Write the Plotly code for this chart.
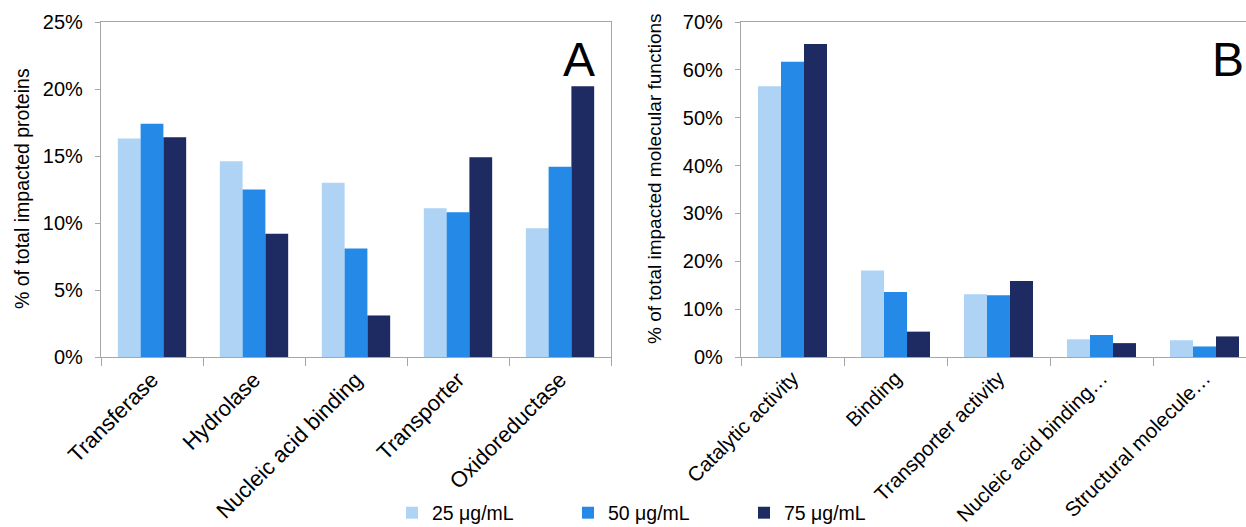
import plotly.graph_objects as go
from plotly.subplots import make_subplots

# Panel A: protein classes
classes_a = ["Transferase", "Hydrolase", "Nucleic acid binding", "Transporter", "Oxidoreductase"]
a_25 = [16.3, 14.6, 13.0, 11.1, 9.6]
a_50 = [17.4, 12.5, 8.1, 10.8, 14.2]
a_75 = [16.4, 9.2, 3.1, 14.9, 20.2]

# Panel B: molecular functions
classes_b = ["Catalytic activity", "Binding", "Transporter activity",
             "Nucleic acid binding…", "Structural molecule…"]
b_25 = [56.6, 18.1, 13.1, 3.7, 3.5]
b_50 = [61.7, 13.6, 12.9, 4.6, 2.2]
b_75 = [65.4, 5.3, 15.9, 2.9, 4.3]

doses = ["25 μg/mL", "50 μg/mL", "75 μg/mL"]
colors = ["#AED3F5", "#2589E7", "#1E2A62"]

FONT = "Liberation Sans, Arial, sans-serif"
W, H = 1246, 527
AXIS_GRAY = "#A6A6A6"

fig = make_subplots(rows=1, cols=2)

for i, (ya, yb) in enumerate(zip([a_25, a_50, a_75], [b_25, b_50, b_75])):
    fig.add_trace(go.Bar(x=classes_a, y=ya, name=doses[i], marker_color=colors[i],
                         marker_line_width=0, legendgroup=doses[i], showlegend=True),
                  row=1, col=1)
    fig.add_trace(go.Bar(x=classes_b, y=yb, name=doses[i], marker_color=colors[i],
                         marker_line_width=0, legendgroup=doses[i], showlegend=False),
                  row=1, col=2)

# plot-area pixel positions
a_left, a_right = 101, 611
b_left = 741
cat_px = 103.0

common_x = dict(showline=True, linecolor=AXIS_GRAY, linewidth=1.3, ticks="outside",
                tickson="boundaries", ticklen=8, tickcolor=AXIS_GRAY, tickwidth=1.3,
                tickangle=-45, showgrid=False, zeroline=False, automargin=False)
common_y = dict(showline=True, linecolor=AXIS_GRAY, linewidth=1.3, ticks="outside",
                ticklen=5, tickcolor=AXIS_GRAY, tickwidth=1.3, ticksuffix="%",
                tickfont=dict(family=FONT, size=20, color="#000"), showgrid=False,
                zeroline=False, ticklabelstandoff=8, automargin=False)

fig.update_xaxes(domain=[a_left / W, a_right / W], mirror=True, range=[-0.5, 4.5],
                 tickfont=dict(family=FONT, size=22, color="#000"),
                 **common_x, row=1, col=1)
fig.update_xaxes(domain=[b_left / W, 1.0], mirror=True,
                 range=[-0.5, -0.5 + (W - b_left) / cat_px],
                 tickfont=dict(family=FONT, size=20.5, color="#000"),
                 **common_x, row=1, col=2)
fig.update_yaxes(range=[0, 25], dtick=5, mirror=True, **common_y, row=1, col=1)
fig.update_yaxes(range=[0, 70], dtick=10, mirror=False, **common_y, row=1, col=2)

top, bottom = 22, 357
ph = bottom - top

fig.update_layout(
    width=W, height=H,
    margin=dict(l=0, r=0, t=top, b=H - bottom, autoexpand=False),
    plot_bgcolor="white", paper_bgcolor="white",
    barmode="group", bargap=0.33, bargroupgap=0,
    font=dict(family=FONT, size=19, color="#000"),
    legend=dict(orientation="h", x=392 / W, xanchor="left",
                y=-(513 - bottom) / ph, yanchor="middle",
                entrywidth=131, entrywidthmode="pixels",
                font=dict(family=FONT, size=19.5, color="#000"),
                bgcolor="rgba(0,0,0,0)", itemclick=False),
)

# y-axis titles
fig.add_annotation(text="% of total impacted proteins", textangle=-90,
                   xref="paper", yref="paper", x=22 / W, y=(bottom - 189) / ph,
                   xanchor="center", yanchor="middle", showarrow=False,
                   font=dict(family=FONT, size=19.5, color="#000"))
fig.add_annotation(text="% of total impacted molecular functions", textangle=-90,
                   xref="paper", yref="paper", x=655 / W, y=(bottom - 179) / ph,
                   xanchor="center", yanchor="middle", showarrow=False,
                   font=dict(family=FONT, size=19, color="#000"))

# panel letters
fig.add_annotation(text="A", xref="paper", yref="paper", x=579 / W, y=(bottom - 60) / ph,
                   xanchor="center", yanchor="middle", showarrow=False,
                   font=dict(family=FONT, size=48, color="#000"))
fig.add_annotation(text="B", xref="paper", yref="paper", x=1228 / W, y=(bottom - 60) / ph,
                   xanchor="center", yanchor="middle", showarrow=False,
                   font=dict(family=FONT, size=48, color="#000"))

fig.write_html("out.html")
